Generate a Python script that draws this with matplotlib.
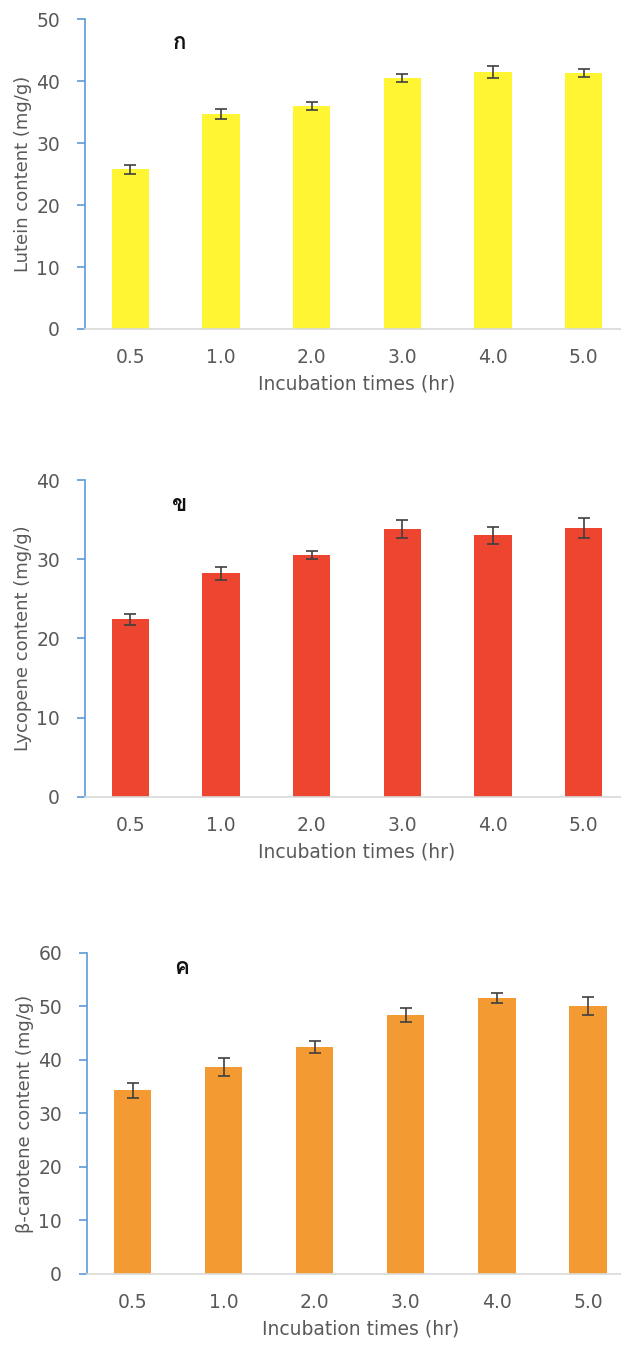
import matplotlib
matplotlib.use("Agg")
import matplotlib.pyplot as plt
from matplotlib import font_manager
from matplotlib.ft2font import FT2Font
import numpy as np

times = ["0.5", "1.0", "2.0", "3.0", "4.0", "5.0"]
lutein = [25.8, 34.7, 36.0, 40.5, 41.5, 41.3]
lutein_err = [0.7, 0.85, 0.6, 0.7, 1.0, 0.65]
lycopene = [22.4, 28.2, 30.5, 33.8, 33.0, 33.9]
lycopene_err = [0.67, 0.84, 0.53, 1.14, 1.05, 1.24]
bcarotene = [34.3, 38.6, 42.5, 48.4, 51.5, 50.1]
bcarotene_err = [1.37, 1.68, 1.12, 1.34, 0.93, 1.6]

# find an installed family that has Thai glyphs
thai_fams = []
for f in font_manager.fontManager.ttflist:
    try:
        cm = FT2Font(f.fname).get_charmap()
        if ord("ก") in cm and ord("ค") in cm and f.name not in thai_fams:
            thai_fams.append(f.name)
    except Exception:
        pass

fams = ['DejaVu Sans'] + thai_fams[:2]
plt.rcParams['font.family'] = fams

panels = [
    dict(vals=lutein, err=lutein_err, color="#FFF533", ylim=50,
         ylabel="Lutein content (mg/g)", tag="ก", ty=0.923, tx=180,
         pos=[85/621, 0.7565, 544/621, 0.2292]),
    dict(vals=lycopene, err=lycopene_err, color="#EE4530", ylim=40,
         ylabel="Lycopene content (mg/g)", tag="ข", ty=0.921, tx=180,
         pos=[85/621, 0.4103, 544/621, 0.2344]),
    dict(vals=bcarotene, err=bcarotene_err, color="#F39A32", ylim=60,
         ylabel="β-carotene content (mg/g)", tag="ค", ty=0.953, tx=182,
         pos=[87/621, 0.057, 546.5/621, 0.2376]),
]

txt = "#595959"
fig = plt.figure(figsize=(6.21, 13.51), dpi=100)

for p in panels:
    ax = fig.add_axes(p["pos"])
    x = np.arange(len(times))
    ax.bar(x, p["vals"], width=0.41, color=p["color"], zorder=2)
    ax.errorbar(x, p["vals"], yerr=p["err"], fmt="none", ecolor="#404040",
                elinewidth=1.2, capsize=4, capthick=1.2, zorder=3)
    ax.set_xlim(-0.5, 5.5)
    ax.set_ylim(0, p["ylim"])
    ax.set_yticks(np.arange(0, p["ylim"] + 1, 10))
    ax.set_xticks(x)
    ax.set_xticklabels(times)
    for s in ["top", "right"]:
        ax.spines[s].set_visible(False)
    ax.spines["left"].set_color("#5B9BD5")
    ax.spines["left"].set_linewidth(1.2)
    ax.spines["bottom"].set_color("#D9D9D9")
    ax.spines["bottom"].set_linewidth(1.2)
    ax.tick_params(axis="y", colors="#5B9BD5", labelcolor=txt, labelsize=13.5,
                   length=6, width=1.2, direction="out", pad=12)
    ax.tick_params(axis="x", length=0, labelcolor=txt, labelsize=13.5, pad=14)
    ax.set_ylabel(p["ylabel"], color=txt, fontsize=13, labelpad=3)
    ax.set_xlabel("Incubation times (hr)", color=txt, fontsize=13.5, labelpad=5)
    left_px = p["pos"][0] * 621
    width_px = p["pos"][2] * 621
    ax.text((p["tx"] - left_px) / width_px, p["ty"], p["tag"],
            transform=ax.transAxes, fontsize=16, fontweight="bold",
            color="#111111", ha="center", va="center")

fig.savefig("out.png", dpi=100)
